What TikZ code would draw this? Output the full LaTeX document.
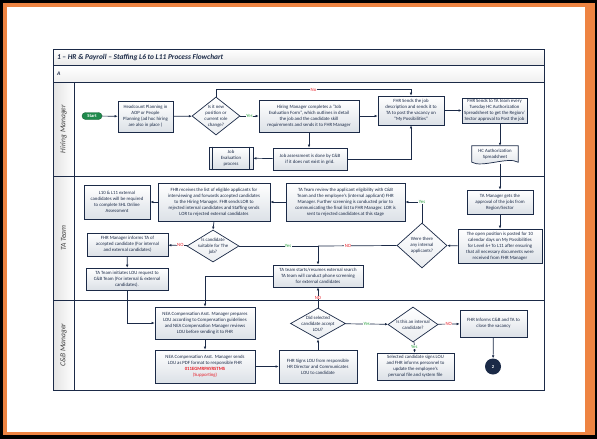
\documentclass[tikz,border=0pt]{standalone}
\usepackage{fontspec}
\setmainfont{Carlito}
\usetikzlibrary{arrows.meta, shapes.geometric}
\definecolor{navy}{HTML}{1B2A47}
\definecolor{boxgray}{HTML}{DCE1E7}
\definecolor{yesgreen}{HTML}{2AA040}
\definecolor{nored}{HTML}{E8202A}
\definecolor{frameorange}{HTML}{EE8442}
\definecolor{startgreen}{HTML}{1F8A4C}
\newcommand*{\boxfont}{\fontsize{4.8}{6.1}\selectfont}
\tikzstyle{block} = [draw=navy, line width=0.7pt, rectangle, top color=white, bottom color=boxgray, text=navy, font=\boxfont, align=center, inner sep=1pt]
\tikzstyle{decision} = [draw=navy, line width=0.7pt, diamond, top color=white, bottom color=boxgray!60, inner sep=0pt]
\tikzstyle{dtext} = [text=navy, font=\boxfont, align=center, inner sep=0pt]
\tikzstyle{flow} = [-{Latex[length=3pt, width=2.6pt]}, draw=navy, line width=0.7pt]
\tikzstyle{wire} = [draw=navy, line width=0.7pt]
\tikzstyle{yeslabel} = [font=\boxfont, text=yesgreen, fill=white, inner sep=0.4pt]
\tikzstyle{nolabel} = [font=\boxfont, text=nored, fill=white, inner sep=0.4pt]
\tikzstyle{lanetext} = [font=\fontsize{7.5}{8}\selectfont\itshape, text=black!75, rotate=90]

\begin{document}
\begin{tikzpicture}[x=1pt, y=-1pt]
    % Frame.
    \useasboundingbox (0,0) rectangle (597,439);
    \fill [black] (0,0) rectangle (597,439);
    \fill [frameorange] (3,3) rectangle (595,435);
    \fill [white] (7,7) rectangle (585,432);

    % Table and lanes.
    \shade [top color=white, bottom color=gray!18] (53,49) rectangle (544,65.5);
    \shade [top color=white, bottom color=gray!12] (53,65.5) rectangle (544,82);
    \shade [left color=gray!22, right color=white] (53,82) rectangle (74,390);
    \draw [navy, line width=0.8pt] (53,49) rectangle (544,390);
    \foreach\y in {65.5, 82, 176, 300} {
        \draw [navy, line width=0.8pt] (53,\y) -- (544,\y);
    }
    \draw [navy, line width=0.8pt] (74,82) -- (74,390);
    \node (title) [anchor=west, text=navy, font=\fontsize{7.4}{8}\selectfont\bfseries\itshape] at (53.5,57.5) {1 – HR \& Payroll – Staffing L6 to L11 Process Flowchart};
    \node (section) [anchor=west, text=navy, font=\fontsize{5.5}{6}\selectfont\bfseries\itshape] at (53.5,74) {A};
    \node (lane1) [lanetext] at (63.5,129) {Hiring Manager};
    \node (lane2) [lanetext] at (63.5,238) {TA Team};
    \node (lane3) [lanetext] at (63.5,345) {C\&B Manager};

    % Hiring Manager.
    \node (start) [draw=startgreen!70!black, fill=startgreen, rounded corners=3.5pt, minimum width=20pt, minimum height=7pt, inner sep=0pt, text=white, font=\fontsize{4.6}{5}\selectfont\bfseries] at (92,116) {Start};
    \node (plan) [block, minimum width=55pt, minimum height=31pt] at (145.5,116.5) {Headcount Planning in\\AOP or People\\Planning (ad hoc hiring\\are also in place )};
    \node (newrole) [decision, minimum width=48pt, minimum height=38pt, label={[dtext]center:{Is it new\\position or\\current role\\change?}}] at (216,116) {};
    \node (jobform) [block, minimum width=100pt, minimum height=32pt] at (309,116) {Hiring Manager completes a “Job\\Evaluation Form”, which outlines in detail\\the job and the candidate skill\\requirements and sends it to FHR Manager};
    \node (fhrsend) [block, minimum width=66pt, minimum height=29pt] at (411,110.5) {FHR Sends the job\\description and sends it to\\TA to post the vacancy on\\“My Possibilities”};
    \node (hcsend) [block, minimum width=65pt, minimum height=25pt] at (494.5,110.5) {FHR Sends to TA team every\\Tuesday HC Authorization\\Spreadsheet to get the Region/\\Sector approval to Post the job};
    \node (assess) [block, minimum width=74pt, minimum height=22pt] at (310,159) {Job assessment is done by C\&B\\if it does not exist in grid.};
    \node (jobeval) [block, minimum width=44pt, minimum height=22pt] at (231,158) {Job\\Evaluation\\process};
    \draw [wire] ([xshift=4pt]jobeval.north west) -- ([xshift=4pt]jobeval.south west);
    \draw [wire] ([xshift=-4pt]jobeval.north east) -- ([xshift=-4pt]jobeval.south east);
    \node (sheet) [minimum width=46pt, minimum height=16pt, inner sep=0pt] at (495,154) {};
    \draw [wire, top color=white, bottom color=boxgray] (sheet.north west) -- (sheet.north east) -- (sheet.south east) .. controls +(-10,-6) and +(10,6) .. (sheet.south west) -- cycle;
    \node (sheettext) [dtext] at (sheet.center) {HC Authorization\\Spreadsheet};

    % TA Team.
    \node (tamgr) [block, minimum width=66pt, minimum height=24pt] at (500,202) {TA Manager gets the\\approval of the jobs from\\Region/Sector};
    \node (posted) [block, minimum width=84pt, minimum height=34pt] at (500,246) {The open position is posted for 10\\calendar days on My Possibilities\\for Level 6+ To L11 after ensuring\\that all necessary documents were\\received from FHR Manager};
    \node (internal) [decision, minimum width=50pt, minimum height=45pt, label={[dtext]center:{Were there\\any internal\\applicants?}}] at (422,245.5) {};
    \node (review) [block, minimum width=119pt, minimum height=38pt] at (345.5,202) {TA Team review the applicant eligibility with C\&B\\Team and the employee’s (internal applicant) FHR\\Manager. Further screening is conducted prior to\\communicating the final list to FHR Manager. LOR is\\sent to rejected candidates at this stage};
    \node (receive) [block, minimum width=112pt, minimum height=38pt] at (214,202) {FHR receives the list of eligible applicants for\\interviewing and forwards accepted candidates\\to the Hiring Manager. FHR sends LOR to\\rejected internal candidates and Staffing sends\\LOR to rejected external candidates};
    \node (shl) [block, minimum width=66pt, minimum height=34pt] at (117,202) {L10 \& L11 external\\candidates will be required\\to complete SHL Online\\Assessment};
    \node (suitable) [decision, minimum width=52pt, minimum height=32pt, label={[dtext]center:{Is candidate\\suitable for The\\job?}}] at (213,246) {};
    \node (accepted) [block, minimum width=81pt, minimum height=23pt] at (127.5,244.5) {FHR Manager informs TA of\\accepted candidate (For internal\\and external candidates)};
    \node (request) [block, minimum width=82pt, minimum height=22pt] at (127,279) {TA Team initiates LOU request to\\C\&B Team (For internal \& external\\candidates).};
    \node (search) [block, minimum width=90pt, minimum height=22pt] at (318,276) {TA team starts/resumes external search\\TA team will conduct phone screening\\for external candidates};
    \coordinate (merge) at (search.north |- suitable.east);

    % C&B Manager.
    \node (prepare) [block, minimum width=100pt, minimum height=32pt] at (205,323) {NEA Compensation Asst. Manager prepares\\LOU according to Compensation guidelines\\and NEA Compensation Manager reviews\\LOU before sending it to FHR};
    \node (pdf) [block, minimum width=100pt, minimum height=33pt] at (205,366.5) {NEA Compensation Asst. Manager sends\\LOU as PDF format to responsible FHR\\{\color{nored}\bfseries 011EGMRPAYRSTMS}\\{\color{nored}(Supporting)}};
    \node (sign) [block, minimum width=78pt, minimum height=33pt] at (318,366.5) {FHR Signs LOU from responsible\\HR Director and Communicates\\LOU to candidate};
    \node (acceptlou) [decision, minimum width=55pt, minimum height=31pt, label={[dtext]center:{Did selected\\candidate accept\\LOU?}}] at (318,323.5) {};
    \node (isinternal) [decision, minimum width=50pt, minimum height=35pt, label={[dtext]center:{Is this an internal\\candidate?}}] at (413,324.5) {};
    \node (close) [block, minimum width=67pt, minimum height=27pt] at (493.5,323.5) {FHR Informs C\&B and TA to\\close the vacancy};
    \node (update) [block, minimum width=77pt, minimum height=27pt] at (415.5,366.5) {Selected candidate signs LOU\\and FHR informs personnel to\\update the employee’s\\personal file and system file};
    \node (finish) [circle, fill=navy, minimum size=16pt, inner sep=0pt, text=white, font=\fontsize{4.6}{5}\selectfont\bfseries] at (493,366.5) {2};

    % Arrows.
    \draw [flow] (start) -- (plan);
    \draw [flow] (plan) -- (newrole);
    \draw [flow] (newrole) -- node [yeslabel] {Yes} (jobform);
    \draw [flow] (newrole.north) -- ++(0,-7) -| node [nolabel, pos=0.25] {No} (fhrsend.north);
    \draw [flow] (jobform) -- (jobform -| fhrsend.west);
    \draw [flow] (jobform.south) -- (jobform.south |- assess.north);
    \draw [flow] (assess) -- (jobeval);
    \draw [flow] (assess.east) -| (fhrsend.south);
    \draw [flow] (fhrsend) -- (hcsend);
    \draw [flow] (hcsend.south -| tamgr.north) -- (sheet.north -| tamgr.north);
    \draw [flow] ([yshift=-1.5pt]sheet.south -| tamgr.north) -- (tamgr.north);
    \draw [flow] (tamgr) -- (posted);
    \draw [flow] (posted) -- (internal);
    \draw [flow] (internal.north) |- node [yeslabel, pos=0.5] {Yes} (review.east);
    \draw [flow] (review) -- (receive);
    \draw [flow] (receive) -- (shl);
    \draw [flow] (receive.south) -- (suitable.north);
    \draw [flow] (suitable) -- node [nolabel, pos=0.37] {NO} (accepted);
    \draw [wire] (suitable.east) -- node [yeslabel, pos=0.62] {Yes} (merge);
    \draw [wire] (internal.west) -- node [nolabel, pos=0.62] {NO} (merge);
    \draw [flow] (merge) -- (search.north);
    \draw [flow] (accepted) -- (request);
    \draw [flow] (request.south) |- (prepare.west);
    \draw [flow] (search.west) -| (prepare.north);
    \draw [flow] (prepare) -- (pdf);
    \draw [flow] (pdf) -- (sign);
    \draw [flow] (sign) -- (acceptlou);
    \draw [flow] (acceptlou.north) -- node [nolabel] {NO} (search.south);
    \draw [flow] (acceptlou) -- node [yeslabel] {Yes} (isinternal);
    \draw [flow] (isinternal) -- node [nolabel] {NO} (close);
    \draw [flow] (isinternal) -- node [yeslabel] {Yes} (update);
    \draw [flow] (close) -- (finish);
\end{tikzpicture}
\end{document}
